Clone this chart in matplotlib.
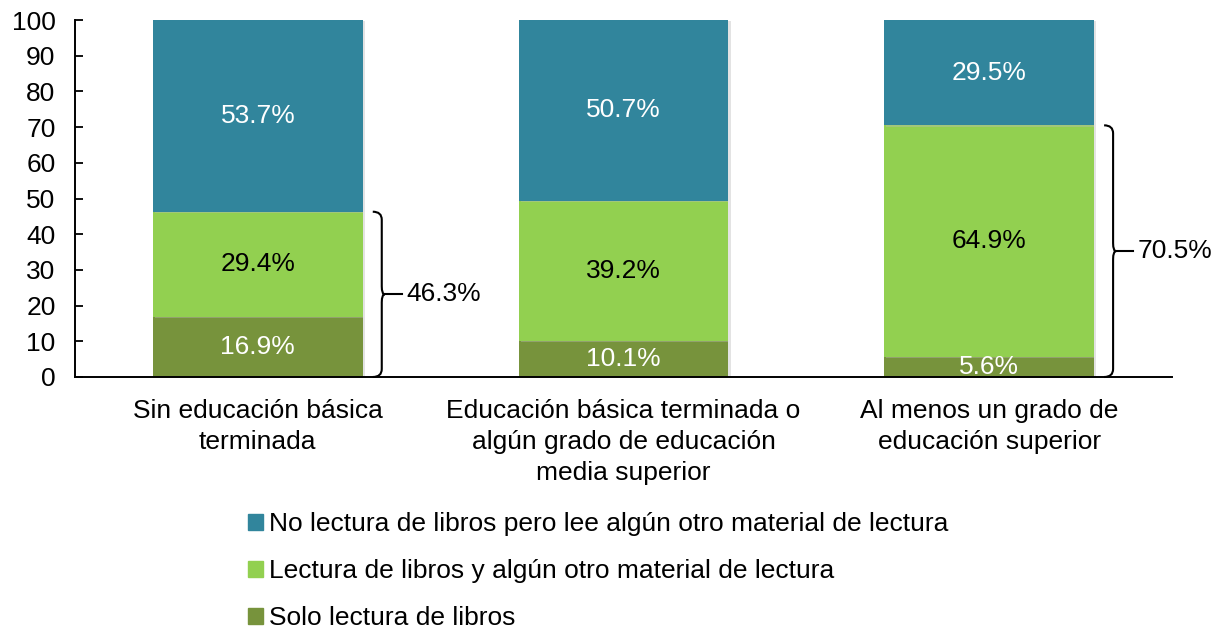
import numpy as np
import matplotlib
matplotlib.use('Agg')
import matplotlib.pyplot as plt
from matplotlib.path import Path
from matplotlib.patches import PathPatch, Patch
import matplotlib.patheffects as pe

plt.rcParams['font.family'] = ['Liberation Sans', 'DejaVu Sans']

# datos
categorias = ['Sin educación básica\nterminada',
              'Educación básica terminada o\nalgún grado de educación\nmedia superior',
              'Al menos un grado de\neducación superior']
solo_libros = [16.9, 10.1, 5.6]
libros_y_otro = [29.4, 39.2, 64.9]
no_libros = [53.7, 50.7, 29.5]
series_nombres = ['Solo lectura de libros',
                  'Lectura de libros y algún otro material de lectura',
                  'No lectura de libros pero lee algún otro material de lectura']
colores = ['#77933C', '#92D050', '#31859C']
color_texto = ['white', 'black', 'white']
llaves = [(0, '46.3%'), (2, '70.5%')]

FS = 19

fig = plt.figure(figsize=(12.23, 6.28), dpi=100)
ax = fig.add_axes([75 / 1223, 1 - 377 / 628, (1172 - 75) / 1223, (377 - 20) / 628])

x = np.arange(len(categorias))
ancho = 0.574
base = np.zeros(len(categorias))
sombra = [pe.SimplePatchShadow(offset=(1.5, -1), shadow_rgbFace='#bbbbbb', alpha=0.4), pe.Normal()]
for vals, col, tc in zip([solo_libros, libros_y_otro, no_libros], colores, color_texto):
    bars = ax.bar(x, vals, ancho, bottom=base, color=col, zorder=2)
    for b in bars:
        b.set_path_effects(sombra)
    for xi, b0, v in zip(x, base, vals):
        ax.text(xi, b0 + v / 2, f'{v:.1f}%', ha='center', va='center',
                color=tc, fontsize=FS, zorder=3)
    base = base + np.array(vals)

ax.set_xlim(-0.5, len(categorias) - 0.5)
ax.set_ylim(0, 100)
ax.set_yticks(range(0, 101, 10))
ax.tick_params(axis='y', direction='in', length=6, width=1.3, labelsize=FS, pad=14)
ax.set_xticks(x)
ax.set_xticklabels(categorias, fontsize=FS, linespacing=1.36)
ax.tick_params(axis='x', length=0, pad=16)
for s in ['top', 'right']:
    ax.spines[s].set_visible(False)
for s in ['left', 'bottom']:
    ax.spines[s].set_linewidth(1.4)

# llaves
px_x = 1 / 366
px_y = 100 / 357
for i, etiqueta in llaves:
    ytop = solo_libros[i] + libros_y_otro[i]
    ybot = 0
    ymid = ytop / 2
    xl = x[i] + ancho / 2 + 10 * px_x
    xv = xl + 9 * px_x
    xt = xv + 3 * px_x
    xp = xv + 20 * px_x
    ry = 8 * px_y
    verts = [(xl, ytop), (xv, ytop), (xv, ytop - ry),
             (xv, ymid + ry), (xv, ymid), (xt, ymid),
             (xv, ymid), (xv, ymid - ry),
             (xv, ybot + ry), (xv, ybot), (xl, ybot)]
    codes = [Path.MOVETO, Path.CURVE3, Path.CURVE3,
             Path.LINETO, Path.CURVE3, Path.CURVE3,
             Path.CURVE3, Path.CURVE3,
             Path.LINETO, Path.CURVE3, Path.CURVE3]
    ax.add_patch(PathPatch(Path(verts, codes), fill=False, lw=1.5,
                           edgecolor='black', clip_on=False, zorder=4))
    ax.plot([xt, xp], [ymid, ymid], color='black', lw=1.5, clip_on=False, zorder=4)
    ax.text(xp + 5 * px_x, ymid, etiqueta, ha='left', va='center', fontsize=FS)

handles = [Patch(color=colores[2]), Patch(color=colores[1]), Patch(color=colores[0])]
labels = [series_nombres[2], series_nombres[1], series_nombres[0]]
fig.legend(handles, labels, loc='upper left', bbox_to_anchor=(248 / 1223, 1 - 512 / 628),
           frameon=False, fontsize=FS, handlelength=0.55, handleheight=0.55,
           handletextpad=0.25, labelspacing=0.88, borderaxespad=0, borderpad=0)

fig.savefig('out.png', dpi=100)
